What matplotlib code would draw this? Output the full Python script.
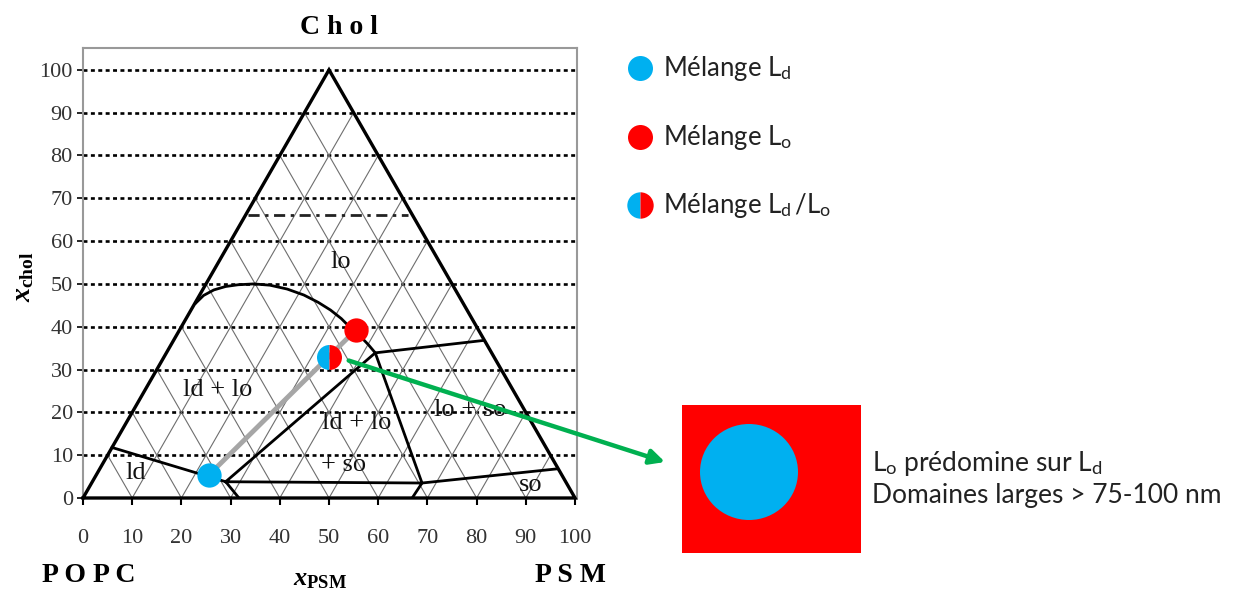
import matplotlib
matplotlib.use('Agg')
import matplotlib.pyplot as plt
from matplotlib.patches import Rectangle, Ellipse

plt.rcParams['mathtext.fontset'] = 'custom'
plt.rcParams['mathtext.rm'] = 'Liberation Serif'
plt.rcParams['mathtext.it'] = 'Liberation Serif:italic:bold'
plt.rcParams['mathtext.bf'] = 'Liberation Serif:bold'
plt.rcParams['mathtext.sf'] = 'Lato'

# ---- data (x = x_PSM + x_chol/2, y = x_chol, in %) ----
tick_vals = [0, 10, 20, 30, 40, 50, 60, 70, 80, 90, 100]
grid_vals = [10, 20, 30, 40, 50, 60, 70, 80, 90]

dome_x = [22.9, 24.5, 26.6, 29.0, 31.5, 34.7, 38.0, 41.5, 44.9, 47.8,
          50.3, 52.5, 54.4, 56.5, 58.0, 59.4]
dome_y = [45.5, 47.3, 48.6, 49.4, 49.8, 50.0, 49.7, 48.8, 47.4, 45.7,
          43.9, 41.9, 39.7, 37.6, 35.8, 33.9]

ld_bound_x = [5.9, 29.0]
ld_bound_y = [11.8, 3.8]

three_phase_x = [29.0, 59.4, 68.9, 29.0]
three_phase_y = [3.8, 33.9, 3.5, 3.8]

ld_so_left_x = [29.0, 31.7]
ld_so_left_y = [3.8, 0.0]
ld_so_right_x = [68.9, 66.9]
ld_so_right_y = [3.5, 0.0]

lo_so_x = [59.4, 81.4]
lo_so_y = [33.9, 36.8]
so_x = [68.9, 96.3]
so_y = [3.5, 6.8]

dash_x = [33.5, 66.0]
dash_y = [66.0, 66.0]

region_labels = ['lo', 'ld + lo', 'ld + lo', '+ so', 'lo + so', 'ld', 'so']
region_x = [52.3, 27.3, 55.7, 53.0, 78.7, 10.7, 90.9]
region_y = [55.2, 25.3, 17.5, 7.7, 20.6, 5.8, 3.0]

ld_mix = (25.6, 5.4)
lo_mix = (55.5, 39.3)
ldlo_mix = (50.0, 33.0)
arrow_start = (54.0, 32.1)

legend_labels = [r'Mélange L$_\mathsf{d}$', r'Mélange L$_\mathsf{o}$',
                 r'Mélange L$_\mathsf{d}\,$/L$_\mathsf{o}$']

BLUE = '#00b0f0'
RED = '#ff0000'
GREEN = '#00b050'

W, H = 1236, 594
fig = plt.figure(figsize=(W / 100, H / 100), dpi=100)
ax = fig.add_axes([83 / W, 1 - 498 / H, (577 - 83) / W, (498 - 48) / H])
ax.set_xlim(0, 100.4)
ax.set_ylim(0, 105.1)

# horizontal dotted grid
for v in tick_vals[1:]:
    ax.axhline(v, color='black', lw=1.9, ls=(0, (1.5, 1.3)), zorder=1)

# thin triangular grid
for p in grid_vals:
    ax.plot([p, p + (100 - p) / 2], [0, 100 - p], color='#6e6e6e', lw=0.8, zorder=1)
    ax.plot([p, p / 2], [0, p], color='#6e6e6e', lw=0.8, zorder=1)

# triangle outline
ax.plot([0, 50, 100, 0], [0, 100, 0, 0], color='black', lw=2.4, zorder=3,
        solid_joinstyle='miter', clip_on=False)

# phase boundaries
bk = dict(color='black', lw=2.0, zorder=3, solid_joinstyle='round')
ax.plot(dome_x, dome_y, **bk)
ax.plot(ld_bound_x, ld_bound_y, **bk)
ax.plot(three_phase_x, three_phase_y, **bk)
ax.plot(ld_so_left_x, ld_so_left_y, **bk)
ax.plot(ld_so_right_x, ld_so_right_y, **bk)
ax.plot(lo_so_x, lo_so_y, **bk)
ax.plot(so_x, so_y, **bk)
ax.plot(dash_x, dash_y, color='#222222', lw=2.0, ls=(0, (4, 2, 1.2, 2)), zorder=3)

for lab, x, y in zip(region_labels, region_x, region_y):
    ax.text(x, y, lab, fontsize=19, family='Liberation Serif', ha='center',
            va='center', zorder=4, color='#111111')

# tie line and mixtures
ax.plot([ld_mix[0], lo_mix[0]], [ld_mix[1], lo_mix[1]], color='#a6a6a6', lw=3.5, zorder=4)
ax.plot(*ld_mix, 'o', ms=17.5, color=BLUE, mec='none', zorder=5)
ax.plot(*lo_mix, 'o', ms=17.5, color=RED, mec='none', zorder=5)
ax.plot(*ldlo_mix, 'o', ms=18, fillstyle='left', markerfacecolor=BLUE,
        markerfacecoloralt=RED, mec='none', zorder=5)

# axes styling
ax.set_xticks(tick_vals)
ax.set_yticks(tick_vals)
ax.tick_params(axis='x', direction='out', length=5, width=1.5, pad=17,
               labelsize=16, labelcolor='#333333')
ax.tick_params(axis='y', direction='out', length=4.3, width=1.2, pad=3,
               labelsize=16, labelcolor='#333333')
for lab in ax.get_xticklabels() + ax.get_yticklabels():
    lab.set_family('Liberation Serif')
for s in ['left', 'top', 'right']:
    ax.spines[s].set_color('#999999')
    ax.spines[s].set_linewidth(1.5)
ax.spines['bottom'].set_visible(False)

# labels of the diagram
fig.text(339 / W, 1 - 27 / H, 'C h o l', fontsize=20, weight='bold',
         family='Liberation Serif', ha='center', va='center')
fig.text(89 / W, 1 - 575 / H, 'P O P C', fontsize=20, weight='bold',
         family='Liberation Serif', ha='center', va='center')
fig.text(570 / W, 1 - 575 / H, 'P S M', fontsize=20, weight='bold',
         family='Liberation Serif', ha='center', va='center')
fig.text(320 / W, 1 - 578 / H, r'$x_{\mathbf{PSM}}$', fontsize=19,
         ha='center', va='center')
fig.text(22 / W, 1 - 277 / H, r'$x_{\mathbf{chol}}$', fontsize=20,
         ha='center', va='center', rotation=90)

# overlay in pixel coordinates: legend, zoomed domain picture
ov = fig.add_axes([0, 0, 1, 1], zorder=10)
ov.set_xlim(0, W)
ov.set_ylim(H, 0)
ov.axis('off')
ov.patch.set_visible(False)

leg_y = [68, 137, 205]
ov.plot(640, leg_y[0], 'o', ms=18, color=BLUE, mec='none')
ov.plot(640, leg_y[1], 'o', ms=18, color=RED, mec='none')
ov.plot(640, leg_y[2], 'o', ms=19, fillstyle='left', markerfacecolor=BLUE,
        markerfacecoloralt=RED, mec='none')
for lab, y in zip(legend_labels, leg_y):
    ov.text(663, y + 8, lab, fontsize=18.5, family='Lato', va='baseline',
            color='#222222')

ov.add_patch(Rectangle((682, 405), 179, 148, color=RED, lw=0))
ov.add_patch(Ellipse((749, 472), 98, 96, color=BLUE, lw=0))
ov.text(872, 471, r'L$_\mathsf{o}$ prédomine sur L$_\mathsf{d}$', fontsize=19,
        family='Lato', va='baseline', color='#222222')
ov.text(872, 503, 'Domaines larges > 75-100 nm', fontsize=19,
        family='Lato', va='baseline', color='#222222')

ov.annotate('', xy=(665, 462), xycoords='data', xytext=arrow_start,
            textcoords=ax.transData,
            arrowprops=dict(arrowstyle='-|>', color=GREEN, lw=3.2,
                            mutation_scale=22, shrinkA=0, shrinkB=0))

fig.savefig('out.png', dpi=100)
